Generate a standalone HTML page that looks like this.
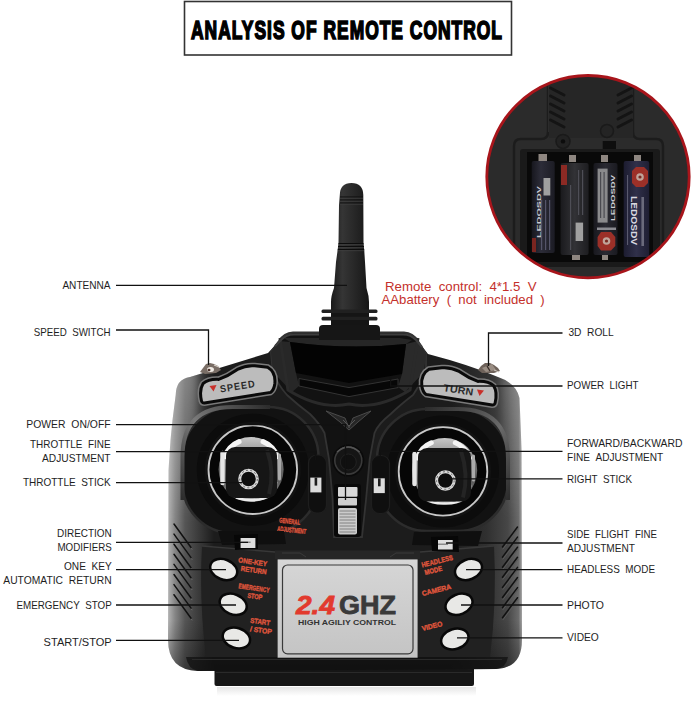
<!DOCTYPE html>
<html><head><meta charset="utf-8">
<style>
html,body{margin:0;padding:0;background:#fff;}
body{width:696px;height:712px;overflow:hidden;position:relative;font-family:"Liberation Sans",sans-serif;}
svg{position:absolute;left:0;top:0;}
.lb{font-family:"Liberation Sans",sans-serif;font-size:11px;fill:#1e1e1e;}
.rd{font-family:"Liberation Sans",sans-serif;font-size:13px;fill:#c4302b;}
</style></head>
<body>
<svg width="696" height="712" viewBox="0 0 696 712">
<defs>
<linearGradient id="gBody" x1="0" y1="0" x2="0" y2="1">
<stop offset="0" stop-color="#222"/><stop offset="0.5" stop-color="#151515"/><stop offset="1" stop-color="#1a1a1a"/>
</linearGradient>
<linearGradient id="gSideL" x1="0" y1="0" x2="1" y2="0">
<stop offset="0" stop-color="#777"/><stop offset="0.25" stop-color="#444"/><stop offset="1" stop-color="#1c1c1c"/>
</linearGradient>
<linearGradient id="gSideR" x1="1" y1="0" x2="0" y2="0">
<stop offset="0" stop-color="#666"/><stop offset="0.3" stop-color="#3a3a3a"/><stop offset="1" stop-color="#1c1c1c"/>
</linearGradient>
<linearGradient id="gHump" x1="0" y1="0" x2="0" y2="1">
<stop offset="0" stop-color="#262626"/><stop offset="1" stop-color="#161616"/>
</linearGradient>
<radialGradient id="gDome" cx="0.5" cy="0.35" r="0.65">
<stop offset="0" stop-color="#3a3a3a"/><stop offset="0.55" stop-color="#7a7a7a"/><stop offset="0.8" stop-color="#cfcfcf"/><stop offset="1" stop-color="#555"/>
</radialGradient>
<linearGradient id="gPlate" x1="0" y1="0" x2="0" y2="1">
<stop offset="0" stop-color="#d6d6d6"/><stop offset="1" stop-color="#c4c4c4"/>
</linearGradient>
<linearGradient id="gAnt" x1="0" y1="0" x2="1" y2="0">
<stop offset="0" stop-color="#1a1a1a"/><stop offset="0.3" stop-color="#353535"/><stop offset="0.6" stop-color="#282828"/><stop offset="1" stop-color="#161616"/>
</linearGradient>
<linearGradient id="gBat1" x1="0" y1="0" x2="1" y2="0">
<stop offset="0" stop-color="#17171e"/><stop offset="0.4" stop-color="#2c2c38"/><stop offset="1" stop-color="#1c1c24"/>
</linearGradient>
<linearGradient id="gBat2" x1="0" y1="0" x2="1" y2="0">
<stop offset="0" stop-color="#1a1a1d"/><stop offset="0.5" stop-color="#323236"/><stop offset="1" stop-color="#1d1d20"/>
</linearGradient>
<linearGradient id="gBat3" x1="0" y1="0" x2="1" y2="0">
<stop offset="0" stop-color="#18181e"/><stop offset="0.5" stop-color="#2a2a32"/><stop offset="1" stop-color="#1a1a20"/>
</linearGradient>
<linearGradient id="gBat4" x1="0" y1="0" x2="1" y2="0">
<stop offset="0" stop-color="#1c1c30"/><stop offset="0.5" stop-color="#30304a"/><stop offset="1" stop-color="#1e1e32"/>
</linearGradient>
<linearGradient id="gChrome" x1="0" y1="0" x2="0" y2="1">
<stop offset="0" stop-color="#bbb"/><stop offset="0.5" stop-color="#333"/><stop offset="1" stop-color="#aaa"/>
</linearGradient>
<linearGradient id="gDome2" x1="0" y1="0" x2="0" y2="1">
<stop offset="0" stop-color="#c8c8c8"/><stop offset="0.3" stop-color="#8a8a8a"/><stop offset="0.65" stop-color="#555"/><stop offset="1" stop-color="#a0a0a0"/>
</linearGradient>
<linearGradient id="gBodyH" gradientUnits="userSpaceOnUse" x1="168" y1="0" x2="522" y2="0">
<stop offset="0" stop-color="#b4b4b4"/><stop offset="0.02" stop-color="#858585"/><stop offset="0.048" stop-color="#555"/><stop offset="0.09" stop-color="#383838"/><stop offset="0.13" stop-color="#1c1c1c"/>
<stop offset="0.8" stop-color="#1c1c1c"/><stop offset="0.9" stop-color="#303030"/><stop offset="0.96" stop-color="#474747"/><stop offset="0.99" stop-color="#6a6a6a"/><stop offset="1" stop-color="#a5a5a5"/>
</linearGradient>
<linearGradient id="gBodyV" gradientUnits="userSpaceOnUse" x1="0" y1="620" x2="0" y2="671">
<stop offset="0" stop-color="#000" stop-opacity="0"/><stop offset="1" stop-color="#000" stop-opacity="0.35"/>
</linearGradient>
<linearGradient id="gPwr" x1="0" y1="0" x2="0" y2="1">
<stop offset="0" stop-color="#3a3a3a"/><stop offset="1" stop-color="#161616"/>
</linearGradient>
<linearGradient id="gRefl" x1="0" y1="0" x2="0" y2="1">
<stop offset="0" stop-color="#e6e6e6"/><stop offset="1" stop-color="#fff"/>
</linearGradient>
<linearGradient id="gRimL" x1="0" y1="1" x2="1" y2="0">
<stop offset="0" stop-color="#2c2c2c"/><stop offset="0.5" stop-color="#7a7a7a"/><stop offset="1" stop-color="#2c2c2c"/>
</linearGradient>
<linearGradient id="gRimR" x1="0" y1="0" x2="1" y2="1">
<stop offset="0" stop-color="#2c2c2c"/><stop offset="0.55" stop-color="#6a6a6a"/><stop offset="1" stop-color="#2c2c2c"/>
</linearGradient>
<linearGradient id="gSideHi" gradientUnits="userSpaceOnUse" x1="0" y1="380" x2="0" y2="520">
<stop offset="0" stop-color="#fff" stop-opacity="0.28"/><stop offset="0.6" stop-color="#fff" stop-opacity="0.12"/><stop offset="1" stop-color="#fff" stop-opacity="0"/>
</linearGradient>
<filter id="blur4" x="-50%" y="-50%" width="200%" height="200%"><feGaussianBlur stdDeviation="4"/></filter>
</defs>
<!-- title -->
<rect x="184.5" y="1.5" width="327" height="53.5" fill="#fff" stroke="#333" stroke-width="1.6"/>
<text x="191" y="39" textLength="312" lengthAdjust="spacingAndGlyphs" style="font-family:'Liberation Sans',sans-serif;font-weight:bold;font-size:26px;fill:#000;stroke:#000;stroke-width:1.7;letter-spacing:1.5px">ANALYSIS OF REMOTE CONTROL</text>

<!-- BODY -->
<g id="remote">
<!-- reflection under -->
<rect x="217" y="687" width="259" height="9" fill="url(#gRefl)"/>
<!-- foot -->
<path d="M214.5,660 L474,660 L474,684 Q474,686 472,686 L216.5,686 Q214.5,686 214.5,684 Z" fill="#161616"/>
<path d="M216,672.5 L472,672.5" stroke="#2a2a2a" stroke-width="1"/>
<!-- outer body silhouette -->
<path d="M175.7,395 Q176,379 190,377 L268,353 L279,341 Q284,333 293,332.5 L404,332.5 Q413,333 418,341 L428,354 Q470,365 498,377 Q516,383 519.5,398 L521.6,450 L522,610 L522,640 Q522,668 496,669 L198,671 Q168,670 168,640 L168.5,470 L170.5,440 L172.5,420 Z" fill="url(#gBodyH)"/>
<path d="M175.7,395 Q176,379 190,377 L268,353 L279,341 Q284,333 293,332.5 L404,332.5 Q413,333 418,341 L428,354 Q470,365 498,377 Q516,383 519.5,398 L521.6,450 L522,610 L522,640 Q522,668 496,669 L198,671 Q168,670 168,640 L168.5,470 L170.5,440 L172.5,420 Z" fill="url(#gBodyV)"/>
<clipPath id="cpBody"><path d="M175.7,395 Q176,379 190,377 L268,353 L279,341 Q284,333 293,332.5 L404,332.5 Q413,333 418,341 L428,354 Q470,365 498,377 Q516,383 519.5,398 L521.6,450 L522,610 L522,640 Q522,668 496,669 L198,671 Q168,670 168,640 L168.5,470 L170.5,440 L172.5,420 Z"/></clipPath>
<g clip-path="url(#cpBody)"><path d="M160,370 L198,370 L196,520 L160,520 Z" fill="url(#gSideHi)" filter="url(#blur4)"/><path d="M502,375 L530,375 L530,520 L504,520 Z" fill="url(#gSideHi)" filter="url(#blur4)" opacity="0.8"/></g>
<!-- base strip -->
<path d="M186,657 L508,657 Q506,668 496,669 L198,671 Q188,669 186,657 Z" fill="#111" opacity="0.75"/>
<path d="M192,659.5 L502,659.5" stroke="#2a2a2a" stroke-width="1"/>
<!-- Y structure (raised) -->
<path d="M271,352 L279,341 Q284,333 293,332.5 L404,332.5 Q413,333 418,341 L426,354 L426,372 Q420,385 413,395 Q400,405 390.7,414 Q378,424 374.5,433 L369.7,459 L366,500 L362,537 L334,537 L332.5,498 L329,459 L324.5,433 Q320,424 310,414 Q298,405 287,395 Q278,385 272.8,372 Z" fill="#121212" stroke="#333" stroke-width="1.8"/>
<!-- hump bevel -->
<path d="M279,341 L290,342 L296,373 L299,386 L292,392 L273,372 L271,352 Z" fill="#272727"/>
<path d="M418,341 L406,344 L402,374 L398,387 L405,392 L424,372 L426,354 Z" fill="#2a2a2a"/>
<path d="M280,338 L288,390 Q320,410 349,404 Q378,410 410,390 L418,338" fill="none" stroke="#2a2a2a" stroke-width="3"/>
<path d="M275,346 L281,340 Q286,334.5 294,334.5 L403,334.5 Q411,334.5 416,340 L422,347" fill="none" stroke="#3d3d3d" stroke-width="2"/>
<path d="M284,338 L400,338 L412,340 L406,344 Q348,350 290,342 Z" fill="#262626"/>
<!-- screen window -->
<path d="M290,342 Q348,350 406,344 L402,374 L349,383 L296,373 Z" fill="#030303"/>
<path d="M299,378.5 L349,387.6 L398,379 L398,387.6 L349,396.6 L299,386 Z" fill="#070707" stroke="#333" stroke-width="1"/>
<!-- V logo -->
<path d="M326,411 L345,418 L349,428 L353,418 L371,411 L358,422 L349,430 L340,422 Z" fill="#262626" stroke="#4a4a4a" stroke-width="1"/>
<path d="M343,420 L349,426 L355,420" fill="none" stroke="#555" stroke-width="1"/>
<!-- left stick -->
<rect x="182.5" y="407" width="136" height="126" rx="50" fill="#121212" stroke="#2c2c2c" stroke-width="2.5"/>
<circle cx="252.8" cy="469.7" r="52" fill="none" stroke="#0c0c0c" stroke-width="8"/>
<circle cx="252.8" cy="469.7" r="44.3" fill="#060606" stroke="#c8c8c8" stroke-width="1.8"/>
<circle cx="251.1" cy="469.5" r="32.5" fill="url(#gDome2)"/>
<path d="M225.1,456.6 Q229.1,445.6 239.1,441.6" fill="none" stroke="#f4f4f4" stroke-width="5" stroke-linecap="round"/>
<path d="M263.1,441.6 Q273.1,445.6 277.1,456.6" fill="none" stroke="#f4f4f4" stroke-width="5" stroke-linecap="round"/>
<path d="M222.5,453 L222.5,483" fill="none" stroke="#e6e6e6" stroke-width="4.5" stroke-linecap="round"/>
<path d="M279.5,455 L279.5,479" fill="none" stroke="#aaa" stroke-width="3" stroke-linecap="round"/>
<path d="M227,482 Q228,500.5 251.5,500 Q275,500.5 276,482" fill="none" stroke="#ececec" stroke-width="2.6"/>
<rect x="226" y="447" width="51" height="51" rx="9" fill="#161616"/>
<path d="M267,450 Q275,472.5 269,494" fill="none" stroke="#242424" stroke-width="4"/>
<circle cx="248.5" cy="479" r="8.8" fill="#0d0d0d" stroke="#d8d8d8" stroke-width="3"/>
<circle cx="248.5" cy="479" r="8.8" fill="none" stroke="#666" stroke-width="1" stroke-dasharray="2 2.3"/>
<path d="M182.5,500 L182.5,457 Q182.5,407 232.5,407 L270,407" fill="none" stroke="url(#gRimL)" stroke-width="4"/>
<!-- right stick -->
<rect x="377" y="409" width="131" height="122" rx="50" fill="#121212" stroke="#2c2c2c" stroke-width="2.5"/>
<circle cx="443" cy="471.4" r="52" fill="none" stroke="#0c0c0c" stroke-width="8"/>
<circle cx="443" cy="471.4" r="44.3" fill="#060606" stroke="#c8c8c8" stroke-width="1.8"/>
<circle cx="444.6" cy="470.5" r="32.6" fill="url(#gDome2)"/>
<path d="M417.3,457.8 Q421.3,446.8 431.3,442.8" fill="none" stroke="#f4f4f4" stroke-width="5" stroke-linecap="round"/>
<path d="M455.3,442.8 Q465.3,446.8 469.3,457.8" fill="none" stroke="#f4f4f4" stroke-width="5" stroke-linecap="round"/>
<path d="M414.5,454 L414.5,484" fill="none" stroke="#e6e6e6" stroke-width="4.5" stroke-linecap="round"/>
<path d="M473.5,456 L473.5,480" fill="none" stroke="#aaa" stroke-width="3" stroke-linecap="round"/>
<path d="M419,485.5 Q420,504.0 444.5,503.5 Q469,504.0 470,485.5" fill="none" stroke="#ececec" stroke-width="2.6"/>
<rect x="418" y="448" width="53" height="53.5" rx="9" fill="#161616"/>
<path d="M461,451 Q469,474.75 463,497.5" fill="none" stroke="#242424" stroke-width="4"/>
<circle cx="445.4" cy="480.5" r="8.8" fill="#0d0d0d" stroke="#d8d8d8" stroke-width="3"/>
<circle cx="445.4" cy="480.5" r="8.8" fill="none" stroke="#666" stroke-width="1" stroke-dasharray="2 2.3"/>
<path d="M425,409 L458,409 Q508,409 508,459 L508,500" fill="none" stroke="url(#gRimR)" stroke-width="4"/>
<!-- trims -->
<rect x="308.5" y="455" width="18" height="58" rx="8" fill="#0f0f0f" stroke="#1e1e1e" stroke-width="1.2"/>
<rect x="310.3" y="477.6" width="11.1" height="14.8" fill="#dcdcdc"/>
<rect x="314.6" y="477.6" width="2.6" height="8" fill="#1e1e1e"/>
<rect x="371.5" y="455.5" width="18" height="58" rx="8" fill="#0f0f0f" stroke="#1e1e1e" stroke-width="1.2"/>
<rect x="373.7" y="478.3" width="11.1" height="14.8" fill="#dcdcdc"/>
<rect x="378" y="478.3" width="2.6" height="8" fill="#1e1e1e"/>
<!-- power button -->
<circle cx="348.3" cy="460.6" r="16" fill="#0a0a0a"/>
<circle cx="348.3" cy="460.6" r="13.5" fill="#151515" stroke="#3a3a3a" stroke-width="1.6"/>
<path d="M337,452 Q348,442 359.6,452" fill="none" stroke="#555" stroke-width="1.5"/>
<circle cx="348.3" cy="462" r="8" fill="#101010" stroke="#222" stroke-width="1"/>
<!-- center slider -->
<rect x="334" y="484" width="27" height="53" rx="3" fill="#090909"/>
<rect x="338" y="487" width="19.5" height="9.8" rx="1" fill="#d8d8d8"/>
<rect x="338" y="498" width="19" height="7.6" rx="1" fill="#cfcfcf"/>
<rect x="338" y="508" width="19" height="26.4" rx="2" fill="#cbcbcb"/>
<g stroke="#7a7a7a" stroke-width="0.9">
<path d="M339.5,511H355.5M339.5,514H355.5M339.5,517H355.5M339.5,520H355.5M339.5,523H355.5M339.5,526H355.5M339.5,529H355.5M339.5,532H355.5"/>
</g>

<!-- general adjustment label -->
<g transform="translate(292,527) rotate(6)" style="font-family:'Liberation Sans',sans-serif;font-weight:bold;font-size:7px;fill:#e0573d;stroke:#e0573d;stroke-width:0.3">
<text x="-3" y="-3" text-anchor="middle" textLength="21" lengthAdjust="spacingAndGlyphs">GENERAL</text>
<text x="0" y="5.5" text-anchor="middle" textLength="29" lengthAdjust="spacingAndGlyphs">ADJUSTMENT</text>
</g>

<!-- lower panel -->
<path d="M202,546 L275,552 L277,559 L277,657 L206,657 Q199,600 202,546 Z" fill="#212121"/>
<path d="M494,546 L420,552 L418,559 L418,657 L490,657 Q497,600 494,546 Z" fill="#212121"/>
<path d="M202,546 L275,552 M494,546 L420,552" stroke="#383838" stroke-width="1.3"/>
<path d="M275,550.5 L420,550.5 L420,559 L275,559 Z" fill="#262626"/>
<path d="M282,553 L300,553 L306,557 M414,553 L396,553 L390,557" stroke="#3a3a3a" stroke-width="1" fill="none"/>
<!-- direction switches -->
<path d="M218,531 L284,531 L286,544 L222,545 Z" fill="#0f0f0f"/>
<path d="M414,532 L482,531 L478,546 L412,545 Z" fill="#0f0f0f"/>
<path d="M234,535 L258,534 L258,549 L235,550 Z" fill="#070707"/>
<rect x="240.6" y="538" width="14.8" height="10" fill="#dedede"/>
<rect x="240.6" y="541.5" width="10" height="1.5" fill="#8a8a8a"/>
<path d="M431,537 L458,536 L459,552 L432,551 Z" fill="#070707"/>
<rect x="438" y="540" width="14.7" height="9.5" fill="#dedede"/>
<rect x="438" y="543.5" width="10" height="1.5" fill="#8a8a8a"/>

<!-- buttons left -->
<g fill="#e8e8e6" stroke="#080808" stroke-width="2.5">
<ellipse cx="223.7" cy="569.5" rx="14" ry="10" transform="rotate(22 223.7 569.5)"/>
<ellipse cx="233.2" cy="604.3" rx="14" ry="10" transform="rotate(22 233.2 604.3)"/>
<ellipse cx="236.4" cy="638" rx="14" ry="10" transform="rotate(18 236.4 638)"/>
<ellipse cx="468.5" cy="569.5" rx="14" ry="10" transform="rotate(-22 468.5 569.5)"/>
<ellipse cx="459" cy="604.3" rx="14" ry="10" transform="rotate(-22 459 604.3)"/>
<ellipse cx="454.8" cy="639" rx="14" ry="10" transform="rotate(-18 454.8 639)"/>
</g>
<!-- red button labels -->
<g style="font-family:'Liberation Sans',sans-serif;font-weight:bold;font-size:7px;fill:#e0573d;stroke:#e0573d;stroke-width:0.35">
<text transform="translate(253,567.5) rotate(8)" text-anchor="middle"><tspan x="-1" y="-3" textLength="29" lengthAdjust="spacingAndGlyphs">ONE-KEY</tspan><tspan x="1" y="5" textLength="26" lengthAdjust="spacingAndGlyphs">RETURN</tspan></text>
<text transform="translate(253.5,592) rotate(8)" text-anchor="middle"><tspan x="0" y="-1.5" textLength="31" lengthAdjust="spacingAndGlyphs">EMERGENCY</tspan><tspan x="2" y="6.5" textLength="15" lengthAdjust="spacingAndGlyphs">STOP</tspan></text>
<text transform="translate(259.5,626) rotate(8)" text-anchor="middle"><tspan x="0" y="-2" textLength="20" lengthAdjust="spacingAndGlyphs">START</tspan><tspan x="2" y="6.5" textLength="22" lengthAdjust="spacingAndGlyphs">/ STOP</tspan></text>
<text transform="translate(438.5,566.5) rotate(-14)" text-anchor="middle"><tspan x="0" y="-3" textLength="32" lengthAdjust="spacingAndGlyphs">HEADLESS</tspan><tspan x="-6" y="5" textLength="18" lengthAdjust="spacingAndGlyphs">MODE</tspan></text>
<text transform="translate(436.5,590) rotate(-14)" text-anchor="middle"><tspan x="0" y="2.5" textLength="30" lengthAdjust="spacingAndGlyphs">CAMERA</tspan></text>
<text transform="translate(432,626) rotate(-14)" text-anchor="middle"><tspan x="0" y="2.5" textLength="21" lengthAdjust="spacingAndGlyphs">VIDEO</tspan></text>
</g>

<!-- silver plate -->
<rect x="277.6" y="559.4" width="140" height="98.3" fill="url(#gPlate)"/>
<rect x="282.5" y="565" width="130.5" height="88.8" rx="5" fill="none" stroke="#3a3a3a" stroke-width="1.2"/>
<text x="296" y="613.5" textLength="39" lengthAdjust="spacingAndGlyphs" style="font-family:'Liberation Sans',sans-serif;font-weight:bold;font-style:italic;font-size:26px;fill:#e23a2e;stroke:#e23a2e;stroke-width:0.8">2.4</text>
<text x="339" y="613.5" textLength="57" lengthAdjust="spacingAndGlyphs" style="font-family:'Liberation Sans',sans-serif;font-weight:bold;font-size:26px;fill:#3a3a3a;stroke:#3a3a3a;stroke-width:0.8">GHZ</text>
<text x="298" y="624.5" textLength="98" lengthAdjust="spacingAndGlyphs" style="font-family:'Liberation Sans',sans-serif;font-weight:bold;font-size:7px;fill:#333">HIGH AGILIY CONTROL</text>

<!-- grilles -->
<g stroke-linecap="round">
<path d="M175,525.8 L192,549.3 M175,535.9 L192,559.4 M175,546.0 L192,569.5 M175,556.1 L192,579.6 M175,566.2 L192,589.7 M175,576.3 L192,599.8 M175,586.4 L192,609.9 M175,596.5 L192,620.0" stroke="#6a6a6a" stroke-width="1"/>
<path d="M174,524.0 L191,547.5 M174,534.1 L191,557.6 M174,544.2 L191,567.7 M174,554.3 L191,577.8 M174,564.4 L191,587.9 M174,574.5 L191,598.0 M174,584.6 L191,608.1 M174,594.7 L191,618.2" stroke="#111" stroke-width="1.5"/>
<path d="M518,529.0 L503,549.0 M518,539.1 L503,559.1 M518,549.2 L503,569.2 M518,559.3 L503,579.3 M518,569.4 L503,589.4 M518,579.5 L503,599.5 M518,589.6 L503,609.6 M518,599.7 L503,619.7" stroke="#5a5a5a" stroke-width="1"/>
<path d="M517.5,527.0 L502.5,547.0 M517.5,537.1 L502.5,557.1 M517.5,547.2 L502.5,567.2 M517.5,557.3 L502.5,577.3 M517.5,567.4 L502.5,587.4 M517.5,577.5 L502.5,597.5 M517.5,587.6 L502.5,607.6 M517.5,597.7 L502.5,617.7" stroke="#111" stroke-width="1.5"/>
</g>
<!-- shoulder plates -->
<g id="spd">
<path d="M201.5,401 Q199,390 203,383.7 Q208,379 218.7,379.4 Q228,376 237.4,369.4 Q246,365 254.7,365.8 L267.6,367.2 Q276,372 274.8,383.7 Q274,390 270.5,392.4 L204.4,403 Q202,403 201.5,401 Z" fill="none" stroke="#7a7a7a" stroke-width="6"/>
<path d="M201.5,401 Q199,390 203,383.7 Q208,379 218.7,379.4 Q228,376 237.4,369.4 Q246,365 254.7,365.8 L267.6,367.2 Q276,372 274.8,383.7 Q274,390 270.5,392.4 L204.4,403 Q202,403 201.5,401 Z" fill="#bcbcbc" stroke="#0a0a0a" stroke-width="3"/>
</g>
<path d="M209.5,386 L216.5,385 L213.5,391.5 Z" fill="#c8302a"/>
<text transform="translate(220.5,392.5) rotate(-9)" textLength="36" lengthAdjust="spacingAndGlyphs" style="font-family:'Liberation Sans',sans-serif;font-weight:bold;font-size:10px;fill:#2a2a2a;letter-spacing:1px">SPEED</text>
<g transform="translate(696.6,2) scale(-1,1)">
<path d="M201.5,401 Q199,390 203,383.7 Q208,379 218.7,379.4 Q228,376 237.4,369.4 Q246,365 254.7,365.8 L267.6,367.2 Q276,372 274.8,383.7 Q274,390 270.5,392.4 L204.4,403 Q202,403 201.5,401 Z" fill="none" stroke="#7a7a7a" stroke-width="6"/>
<path d="M201.5,401 Q199,390 203,383.7 Q208,379 218.7,379.4 Q228,376 237.4,369.4 Q246,365 254.7,365.8 L267.6,367.2 Q276,372 274.8,383.7 Q274,390 270.5,392.4 L204.4,403 Q202,403 201.5,401 Z" fill="#bcbcbc" stroke="#0a0a0a" stroke-width="3"/>
</g>
<text transform="translate(443,391) rotate(9)" textLength="30" lengthAdjust="spacingAndGlyphs" style="font-family:'Liberation Sans',sans-serif;font-weight:bold;font-size:10px;fill:#2a2a2a">TURN</text>
<path d="M477,389.5 L484,390.5 L479.5,396 Z" fill="#c8302a"/>

<!-- toggles -->
<g>
<path d="M200,372 L203,368 L206,364 L210,363 L214,364 L218,366 L221,370 L216,373 L205,374 Z" fill="#7a6e66"/>
<ellipse cx="210.5" cy="369.5" rx="3.5" ry="2.5" fill="#f0ebe5"/>
<ellipse cx="209" cy="370" rx="1.5" ry="1.2" fill="#4a3028"/>
<path d="M214,365 L219,367" stroke="#d8d0c8" stroke-width="1.2"/>
<path d="M478,370 L481,366 L485,363 L490,363 L494,365 L498,368 L500,371 L494,373 L482,373 Z" fill="#6e625a"/>
<path d="M482,368 L492,364 L496,370 L486,372 Z" fill="#9a8e84"/>
<path d="M487,366 L490,371" stroke="#3a2e28" stroke-width="1.4"/>
<path d="M494,370 L499,372" stroke="#d0c8c0" stroke-width="1"/>
</g>

<!-- antenna -->
<path d="M339.8,195 Q340,183 351.5,183 Q363,183 363.3,195 L363.5,243 L364.3,251 L365,262 L366.5,288 Q369,296 369,302 L369,311 L331,311 L331,302 Q331,296 334,288 L336,262 L337.5,251 L338.5,243 L339,205 Z" fill="url(#gAnt)"/>
<rect x="321.5" y="309.5" width="56" height="3.6" rx="1.5" fill="#202020"/>
<rect x="331" y="313" width="38" height="4" fill="#151515"/>
<rect x="321.5" y="316.8" width="56" height="3.6" rx="1.5" fill="#202020"/>
<rect x="331" y="320" width="38" height="5" fill="#151515"/>
<path d="M319,340 L319,329 Q319,325 323,325 L376,325 Q380,325 380,329 L380,340 Z" fill="#161616"/>
<path d="M340,197H363M340,200H363M340,203H363M338.5,243.5H363.5M338,246.5H364M337.8,249.5H364.2" stroke="#0c0c0c" stroke-width="1"/>
<path d="M340,198.2H363M340,201.2H363M340,204.2H363M338.5,244.7H363.5M338,247.7H364M337.8,250.7H364.2" stroke="#404040" stroke-width="0.8"/>
<!-- labels left -->
<g class="lb">
<text x="62.4" y="289.3" textLength="48.2" lengthAdjust="spacingAndGlyphs">ANTENNA</text>
<text x="33.7" y="336.3" textLength="76.9" lengthAdjust="spacingAndGlyphs">SPEED&#160;&#160;SWITCH</text>
<text x="26.3" y="428.1" textLength="84.3" lengthAdjust="spacingAndGlyphs">POWER&#160;&#160;ON/OFF</text>
<text x="30" y="448.3" textLength="80.6" lengthAdjust="spacingAndGlyphs">THROTTLE&#160;&#160;FINE</text>
<text x="42" y="461.5" textLength="68.6" lengthAdjust="spacingAndGlyphs">ADJUSTMENT</text>
<text x="22.9" y="486.0" textLength="87.7" lengthAdjust="spacingAndGlyphs">THROTTLE&#160;&#160;STICK</text>
<text x="57" y="536.8" textLength="54.7" lengthAdjust="spacingAndGlyphs">DIRECTION</text>
<text x="57.5" y="550.6" textLength="54.2" lengthAdjust="spacingAndGlyphs">MODIFIERS</text>
<text x="64" y="569.8" textLength="47.7" lengthAdjust="spacingAndGlyphs">ONE&#160;&#160;KEY</text>
<text x="3.3" y="583.7" textLength="108.4" lengthAdjust="spacingAndGlyphs">AUTOMATIC&#160;&#160;RETURN</text>
<text x="16.5" y="608.8" textLength="95.2" lengthAdjust="spacingAndGlyphs">EMERGENCY&#160;&#160;STOP</text>
<text x="43.6" y="645.8" textLength="68.1" lengthAdjust="spacingAndGlyphs">START/STOP</text>
</g>
<!-- labels right -->
<g class="lb">
<text x="568.4" y="335.8" textLength="45.3" lengthAdjust="spacingAndGlyphs">3D&#160;&#160;ROLL</text>
<text x="567" y="388.6" textLength="71.5" lengthAdjust="spacingAndGlyphs">POWER&#160;&#160;LIGHT</text>
<text x="567" y="446.8" textLength="115.5" lengthAdjust="spacingAndGlyphs">FORWARD/BACKWARD</text>
<text x="567" y="460.7" textLength="96.2" lengthAdjust="spacingAndGlyphs">FINE&#160;&#160;ADJUSTMENT</text>
<text x="567" y="483.1" textLength="65" lengthAdjust="spacingAndGlyphs">RIGHT&#160;&#160;STICK</text>
<text x="567" y="537.7" textLength="90" lengthAdjust="spacingAndGlyphs">SIDE&#160;&#160;FLIGHT&#160;&#160;FINE</text>
<text x="567" y="551.6" textLength="68" lengthAdjust="spacingAndGlyphs">ADJUSTMENT</text>
<text x="567" y="573.1" textLength="88" lengthAdjust="spacingAndGlyphs">HEADLESS&#160;&#160;MODE</text>
<text x="567" y="608.8" textLength="37" lengthAdjust="spacingAndGlyphs">PHOTO</text>
<text x="567" y="641.4" textLength="31.8" lengthAdjust="spacingAndGlyphs">VIDEO</text>
</g>

<!-- red note -->
<text class="rd" x="385" y="290.5" textLength="151.5" lengthAdjust="spacingAndGlyphs">Remote&#160;&#160;control:&#160;&#160;4*1.5&#160;&#160;V</text>
<text class="rd" x="381.5" y="304" textLength="163.2" lengthAdjust="spacingAndGlyphs">AAbattery&#160;&#160;(&#160;&#160;not&#160;&#160;included&#160;&#160;)</text>

<!-- inset circle -->
<g id="inset">
<clipPath id="cpIn"><circle cx="588" cy="176.7" r="101"/></clipPath>
<g clip-path="url(#cpIn)">
<rect x="480" y="70" width="220" height="215" fill="#2b2b2b"/>
<!-- raised ridge outline -->
<path d="M548,60 L548,132 Q548,139 541,139 L521,139 Q514,139 514,146 L514,300" fill="none" stroke="#1c1c1c" stroke-width="2.5"/>
<path d="M549,60 L549,132" fill="none" stroke="#3a3a3a" stroke-width="1"/>
<path d="M633,60 L633,132 Q633,139 640,139 L656,139 Q663,139 663,146 L663,300" fill="none" stroke="#1c1c1c" stroke-width="2.5"/>
<rect x="549" y="70" width="84" height="68" fill="#262626"/>
<!-- vents -->
<g stroke="#141414" stroke-width="3" stroke-linecap="round">
<path d="M550.5,88 L564,95 M550.5,96 L564,103 M550.5,104 L564,111 M550.5,112 L564,119 M550.5,120 L564,127"/>
<path d="M631.5,88 L618,95 M631.5,96 L618,103 M631.5,104 L618,111 M631.5,112 L618,119 M631.5,120 L618,127"/>
</g>
<!-- screw holes -->
<circle cx="563" cy="141.4" r="7" fill="#222" stroke="#1a1a1a" stroke-width="1.5"/>
<circle cx="563" cy="141.4" r="2.2" fill="#0c0c0c"/>
<circle cx="607" cy="131" r="6.5" fill="#242424" stroke="#1a1a1a" stroke-width="1.5"/>
<rect x="602.7" y="141" width="13.3" height="11" fill="#0e0e0e"/>
<!-- compartment -->
<rect x="520" y="149" width="140" height="118" rx="3" fill="#1a1a1a"/>
<rect x="527" y="152" width="126" height="110" fill="#090909"/>
<!-- terminals -->
<g fill="#8e8680">
<rect x="538.5" y="154" width="8.5" height="8"/>
<rect x="569" y="155" width="7" height="7"/>
<rect x="601" y="155" width="7" height="7"/>
<rect x="634" y="155" width="7" height="7"/>
<rect x="572" y="254" width="8" height="6"/>
<rect x="602" y="255" width="6" height="5"/>
</g>
<!-- batteries -->
<rect x="531.7" y="161" width="23" height="92" rx="2" fill="url(#gBat1)"/>
<rect x="543.5" y="178" width="6.8" height="17.5" fill="#a0a0a0"/>
<text transform="translate(540.5,238) rotate(-90)" style="font-family:'Liberation Sans',sans-serif;font-weight:bold;font-size:6px;fill:#c8c8d0" textLength="52" lengthAdjust="spacingAndGlyphs">LEDOSDV</text>
<g fill="#55556a"><rect x="541" y="200" width="1.2" height="50"/><rect x="545" y="200" width="1.2" height="50"/><rect x="549" y="200" width="1.2" height="50"/></g>
<rect x="532" y="238" width="4" height="14" fill="#7a2520"/>
<rect x="560.6" y="163" width="28" height="92" rx="2" fill="url(#gBat2)"/>
<rect x="561" y="165" width="6" height="20" fill="#8c2a24"/>
<rect x="575.6" y="222.6" width="7.5" height="18.4" fill="#a0a0a0"/>
<g fill="#4e4e56"><rect x="570" y="185" width="1.2" height="65"/><rect x="578" y="170" width="1.2" height="45"/><rect x="582" y="170" width="1.2" height="45"/></g>
<rect x="593.5" y="163" width="24" height="92" rx="2" fill="url(#gBat3)"/>
<rect x="597.6" y="168.6" width="10" height="54" fill="#8a8a8c"/>
<g fill="#4a4a50"><rect x="600" y="172" width="1.2" height="46"/><rect x="603.5" y="172" width="1.2" height="46"/></g>
<text transform="translate(615,221) rotate(-90)" style="font-family:'Liberation Sans',sans-serif;font-weight:bold;font-size:6px;fill:#d0d0d8" textLength="46" lengthAdjust="spacingAndGlyphs">LEDOSDV</text>
<rect x="597" y="227.5" width="19" height="2.5" fill="#8a8a90"/>
<path d="M601,232 L611,232 L615.3,237 L615.3,246 L611,250.4 L601,250.4 L597.6,246 L597.6,237 Z" fill="#9c3028"/>
<circle cx="606.5" cy="241" r="3.8" fill="#c0a49a"/>
<circle cx="606.5" cy="241" r="1.6" fill="#7a2a22"/>
<rect x="623.7" y="161" width="25.5" height="96" rx="2" fill="url(#gBat4)"/>
<path d="M636,167 L644,167 L648,171 L648,183 L644,187 L636,187 L632,183 L632,171 Z" fill="#9c3028"/>
<circle cx="640" cy="177" r="3.8" fill="#c0a49a"/>
<circle cx="640" cy="177" r="1.6" fill="#7a2a22"/>
<rect x="641.4" y="197" width="2.6" height="49" fill="#6a6a7c"/>
<text transform="translate(631,196) rotate(90)" style="font-family:'Liberation Sans',sans-serif;font-weight:bold;font-size:8.5px;fill:#d8d8e0" textLength="49" lengthAdjust="spacingAndGlyphs">LEDOSDV</text>
<g fill="#5a5a6e"><rect x="627" y="175" width="1.1" height="70"/></g>
</g>
<circle cx="588" cy="176.7" r="101.2" fill="none" stroke="#a8151b" stroke-width="2.8"/>
</g>

<!-- leader lines -->
<g stroke="#111" stroke-width="1.3" fill="none">
<path d="M116,285.3 H347"/>
<path d="M116,330 H208.5 V365"/>
<path d="M116,424.6 H345.5 V500"/>
<path d="M116,451.6 H315.5 V460"/>
<path d="M116,482.6 H242"/>
<path d="M116,542.3 H248"/>
<path d="M116,569.7 H226"/>
<path d="M116,605 H236"/>
<path d="M116,640.4 H239"/>
<path d="M562.5,333 H488.5 V366"/>
<path d="M562.5,386 H390.6 V376"/>
<path d="M562.5,451.4 H380.2 V460"/>
<path d="M562.5,478.8 H447"/>
<path d="M562.5,543 H446"/>
<path d="M562.5,569.7 H466"/>
<path d="M562.5,605 H461"/>
<path d="M562.5,637.8 H457"/>
</g>
</svg>
</body></html>
